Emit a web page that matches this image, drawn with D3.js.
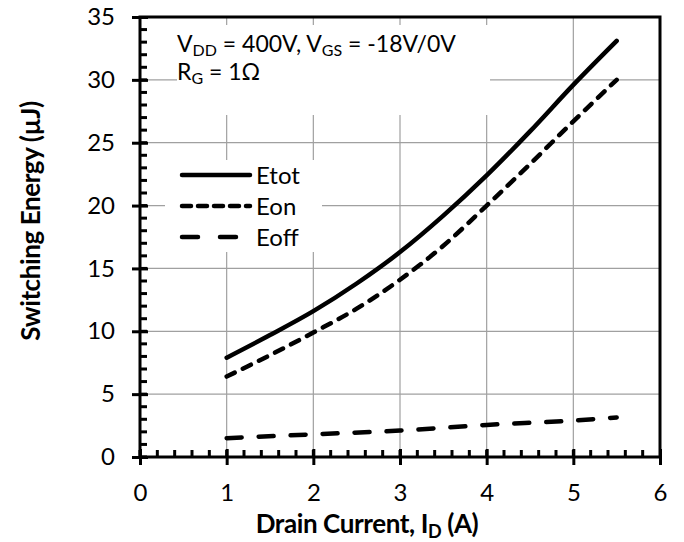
<!DOCTYPE html>
<html>
<head>
<meta charset="utf-8">
<script src="https://cdn.jsdelivr.net/npm/d3@7"></script>
<style>
body { margin: 0; background: #fff; }
text { font-family: Lato, "Open Sans", sans-serif; fill: #000; }
</style>
</head>
<body>
<svg id="main-svg" width="684" height="542"></svg>
<script>
// data
var current = [1, 1.5, 2, 2.5, 3, 3.5, 4, 4.5, 5, 5.5];
var eTot = [7.9, 9.7, 11.6, 13.8, 16.3, 19.2, 22.4, 25.9, 29.6, 33.1];
var eOn = [6.4, 8.1, 9.9, 11.8, 14.1, 16.8, 20.0, 23.3, 26.7, 30.0];
var currentOff = [1, 2, 3, 4, 5, 5.5];
var eOff = [1.5, 1.8, 2.1, 2.55, 2.9, 3.15];
var xTicks = [0, 1, 2, 3, 4, 5, 6];
var yTicks = [0, 5, 10, 15, 20, 25, 30, 35];
var legendNames = ["Etot", "Eon", "Eoff"];

var pLeft = 140, pRight = 660, pTop = 17, pBottom = 457;
var svg = d3.select("#main-svg");

var x = d3.scaleLinear().domain([0, 6]).range([pLeft, pRight]);
var y = d3.scaleLinear().domain([0, 35]).range([pBottom, pTop]);

// grid
var grid = svg.append("g");
grid.selectAll("line.gx").data(xTicks.slice(1, -1)).enter().append("line")
    .attr("x1", d => x(d)).attr("x2", d => x(d))
    .attr("y1", pTop).attr("y2", pBottom)
    .attr("stroke", "#a0a0a0").attr("stroke-width", 1.2);
grid.selectAll("line.gy").data(yTicks.slice(1, -1)).enter().append("line")
    .attr("y1", d => y(d)).attr("y2", d => y(d))
    .attr("x1", pLeft).attr("x2", pRight)
    .attr("stroke", "#a0a0a0").attr("stroke-width", 1.2);

// white boxes behind the notes and legend
svg.append("rect").attr("x", 177).attr("y", 25).attr("width", 313).attr("height", 90).attr("fill", "#fff");
svg.append("rect").attr("x", 165).attr("y", 160).attr("width", 157).attr("height", 92).attr("fill", "#fff");

// minor ticks (inside)
var ticks = svg.append("g");
ticks.selectAll("line.mx").data(d3.range(0, 30).map(i => i * 0.2)).enter().append("line")
    .attr("x1", d => x(d)).attr("x2", d => x(d))
    .attr("y1", pBottom).attr("y2", pBottom - 7)
    .attr("stroke", "#000").attr("stroke-width", 3);
ticks.selectAll("line.my").data(d3.range(0, 35)).enter().append("line")
    .attr("y1", d => y(d)).attr("y2", d => y(d))
    .attr("x1", pLeft).attr("x2", pLeft + 7)
    .attr("stroke", "#000").attr("stroke-width", 3);

// axes with major ticks crossing
var xAxis = d3.axisBottom(x).tickValues(xTicks).tickFormat(d3.format("d")).tickSize(0).tickPadding(27);
var gx = svg.append("g").attr("transform", "translate(0," + pBottom + ")").call(xAxis);
gx.select(".domain").remove();
gx.selectAll("text").attr("font-size", 24).style("font-family", "Lato").attr("fill", "#000");
gx.selectAll(".tick").append("line").attr("y1", -8).attr("y2", 8)
    .attr("stroke", "#000").attr("stroke-width", 3);

var yAxis = d3.axisLeft(y).tickValues(yTicks).tickFormat(d3.format("d")).tickSize(0).tickPadding(25);
var gy = svg.append("g").attr("transform", "translate(" + pLeft + ",0)").call(yAxis);
gy.select(".domain").remove();
gy.selectAll("text").attr("font-size", 24).style("font-family", "Lato").attr("fill", "#000");
gy.selectAll(".tick").append("line").attr("x1", -8).attr("x2", 8)
    .attr("stroke", "#000").attr("stroke-width", 3);

// frame
svg.append("rect").attr("x", pLeft).attr("y", pTop)
    .attr("width", pRight - pLeft).attr("height", pBottom - pTop)
    .attr("fill", "none").attr("stroke", "#000").attr("stroke-width", 3);

// curves
var line = d3.line().x(d => x(d[0])).y(d => y(d[1])).curve(d3.curveMonotoneX);
var styles = [
    {data: d3.zip(current, eTot), dash: null},
    {data: d3.zip(current, eOn), dash: "9,9"},
    {data: d3.zip(currentOff, eOff), dash: "15,17"}
];
styles.forEach(function (s) {
    svg.append("path").attr("d", line(s.data))
        .attr("fill", "none").attr("stroke", "#000").attr("stroke-width", 4.5)
        .attr("stroke-linecap", "round")
        .attr("stroke-dasharray", s.dash);
});

// legend
var legDash = [null, "9,7", "16,22"];
legendNames.forEach(function (n, i) {
    var ly = 175 + i * 31;
    svg.append("line").attr("x1", 182).attr("x2", 250).attr("y1", ly).attr("y2", ly)
        .attr("stroke", "#000").attr("stroke-width", 4.5).attr("stroke-linecap", "round")
        .attr("stroke-dasharray", legDash[i]);
    svg.append("text").attr("x", 256).attr("y", ly + 9).attr("font-size", 24).text(n);
});

// notes
var t1 = svg.append("text").attr("x", 177).attr("y", 52).attr("font-size", 23);
t1.append("tspan").text("V");
t1.append("tspan").attr("font-size", 16).attr("dy", 4).text("DD");
t1.append("tspan").attr("dy", -4).text(" = 400V, V");
t1.append("tspan").attr("font-size", 16).attr("dy", 4).text("GS");
t1.append("tspan").attr("dy", -4).text(" = -18V/0V");
var t2 = svg.append("text").attr("x", 177).attr("y", 80).attr("font-size", 23);
t2.append("tspan").text("R");
t2.append("tspan").attr("font-size", 16).attr("dy", 4).text("G");
t2.append("tspan").attr("dy", -4).text(" = 1\u03a9");

// axis titles
var xt = svg.append("text").attr("x", 367).attr("y", 533).attr("text-anchor", "middle")
    .attr("font-size", 26).attr("font-weight", "bold").attr("letter-spacing", -0.4);
xt.append("tspan").text("Drain Current, I");
xt.append("tspan").attr("font-size", 18).attr("dy", 5).text("D");
xt.append("tspan").attr("dy", -5).text(" (A)");

svg.append("text").attr("transform", "translate(40,221) rotate(-90)")
    .attr("text-anchor", "middle").attr("font-size", 26).attr("font-weight", "bold")
    .attr("letter-spacing", -0.4)
    .text("Switching Energy (\u00b5J)");
</script>
</body>
</html>
